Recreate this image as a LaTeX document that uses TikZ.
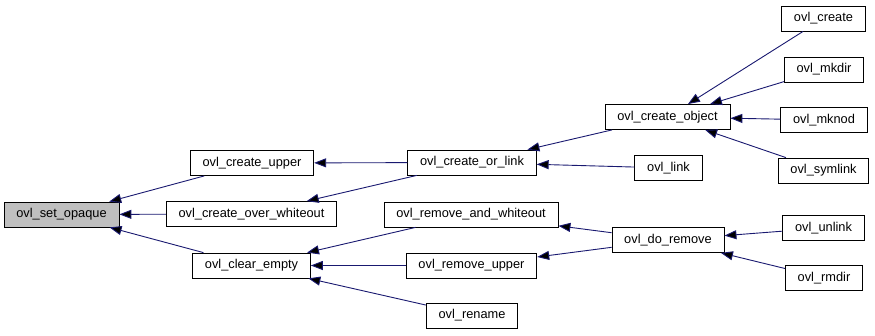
\documentclass[tikz,border=0pt]{standalone}
\usepackage{fontspec}
\setmainfont{Liberation Sans}
\usetikzlibrary{arrows.meta}

\definecolor{callblue}{HTML}{191970}
\definecolor{rootgray}{HTML}{BFBFBF}

\begin{document}
\begin{tikzpicture}[
		x=1pt, y=-1pt,
		every node/.style={rectangle, draw=black, line width=0.8pt, fill=white,
			inner xsep=12.3pt, inner ysep=0pt, minimum height=25pt,
			font=\fontsize{12.8}{15}\selectfont},
		call/.style={draw=callblue, line width=0.9pt,
			{Triangle[length=12pt, width=9pt]}-}
	]
  \useasboundingbox (0, 0) rectangle (875, 335);
  % root of the graph
  \node (set_opaque) [fill=rootgray] at (61.5, 214.5) {ovl\_set\_opaque};
  % first level callers
  \node (create_upper) at (252, 163) {ovl\_create\_upper};
  \node (create_over_whiteout) at (251.5, 214) {ovl\_create\_over\_whiteout};
  \node (clear_empty) at (251.5, 265.5) {ovl\_clear\_empty};
  % second level
  \node (create_or_link) at (472, 162.5) {ovl\_create\_or\_link};
  \node (remove_and_whiteout) at (471, 214.5) {ovl\_remove\_and\_whiteout};
  \node (remove_upper) at (471.5, 265.5) {ovl\_remove\_upper};
  \node (rename) at (472, 315.5) {ovl\_rename};
  % third level
  \node (create_object) at (667.5, 117) {ovl\_create\_object};
  \node (link) at (668.5, 168) {ovl\_link};
  \node (do_remove) at (668, 240) {ovl\_do\_remove};
  % syscall entries
  \node (create) at (823.5, 18.5) {ovl\_create};
  \node (mkdir) at (824, 69.5) {ovl\_mkdir};
  \node (mknod) at (824, 120) {ovl\_mknod};
  \node (symlink) at (823.5, 170.5) {ovl\_symlink};
  \node (unlink) at (823.5, 228) {ovl\_unlink};
  \node (rmdir) at (824, 278) {ovl\_rmdir};

  \draw [call] (set_opaque) edge (create_upper);
  \draw [call] (set_opaque) edge (create_over_whiteout);
  \draw [call] (set_opaque) edge (clear_empty);
  \draw [call] (create_upper) edge (create_or_link);
  \draw [call] (create_over_whiteout) edge (create_or_link);
  \draw [call] (clear_empty) edge (remove_and_whiteout);
  \draw [call] (clear_empty) edge (remove_upper);
  \draw [call] (clear_empty) edge (rename);
  \draw [call] (create_or_link) edge (create_object);
  \draw [call] (create_or_link) edge (link);
  \draw [call] (remove_and_whiteout) edge (do_remove);
  \draw [call] (remove_upper) edge (do_remove);
  \draw [call] (create_object) edge (create);
  \draw [call] (create_object) edge (mkdir);
  \draw [call] (create_object) edge (mknod);
  \draw [call] (create_object) edge (symlink);
  \draw [call] (do_remove) edge (unlink);
  \draw [call] (do_remove) edge (rmdir);
\end{tikzpicture}
\end{document}
